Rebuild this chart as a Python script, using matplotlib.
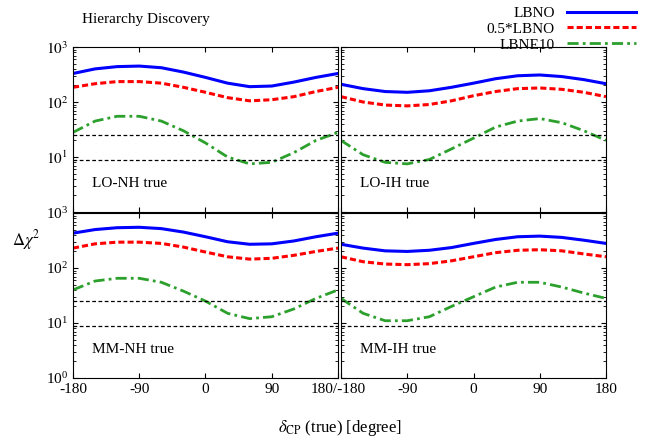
import matplotlib
matplotlib.use("Agg")
import matplotlib.pyplot as plt
import numpy as np

plt.rcParams["font.family"] = "Liberation Serif"
plt.rcParams["mathtext.fontset"] = "stix"

delta = [-180, -150, -120, -90, -60, -30, 0, 30, 60, 90, 120, 150, 180]
panels = ["LO-NH true", "LO-IH true", "MM-NH true", "MM-IH true"]

lbno = [
    [330, 400, 440, 450, 420, 350, 280, 220, 190, 195, 230, 280, 330],
    [210, 175, 155, 150, 160, 185, 220, 265, 300, 310, 290, 255, 215],
    [430, 500, 540, 550, 520, 450, 370, 300, 270, 275, 310, 370, 430],
    [270, 230, 205, 200, 210, 235, 280, 330, 370, 380, 360, 320, 280],
]
half_lbno = [
    [185, 215, 235, 235, 220, 185, 150, 120, 105, 110, 125, 155, 185],
    [125, 100, 88, 85, 90, 105, 130, 155, 175, 180, 170, 150, 125],
    [230, 275, 295, 295, 280, 240, 195, 160, 145, 150, 170, 200, 230],
    [160, 130, 118, 115, 120, 135, 160, 190, 210, 215, 205, 180, 160],
]
lbne10 = [
    [28, 45, 55, 55, 45, 30, 18, 10, 7.5, 8, 12, 20, 28],
    [20, 11, 8, 7.5, 9, 14, 22, 35, 45, 50, 42, 30, 20],
    [40, 58, 65, 65, 55, 38, 25, 15, 12, 13, 18, 28, 40],
    [28, 15, 11, 11, 13, 20, 30, 45, 55, 55, 45, 35, 28],
]
thresholds = [25, 9]

fig = plt.figure(figsize=(6.54, 4.36), dpi=100)
W, H = 654, 436
ph = 165
boxes = [(73, 47), (341, 47), (73, 213), (341, 213)]
axes = []
for i, (x0, y0) in enumerate(boxes):
    ax = fig.add_axes([x0 / W, 1 - (y0 + ph) / H, 265 / W, ph / H])
    axes.append(ax)
    l1, = ax.plot(delta, lbno[i], color="#0000ff", lw=2.2)
    l2, = ax.plot(delta, half_lbno[i], color="#ff0000", lw=2.2, ls=(0, (2, 1)))
    l3, = ax.plot(delta, lbne10[i], color="#2ca02c", lw=2.0, ls=(0, (4, 1.5, 1, 1.5)))
    for t in thresholds:
        ax.axhline(t, color="black", lw=0.9, ls=(0, (3, 2)))
    ax.set_yscale("log")
    ax.set_ylim(1, 1000)
    ax.set_xlim(-180, 180)
    ax.set_xticks([-180, -90, 0, 90, 180])
    ax.tick_params(direction="in", which="both", top=True, right=True, labelsize=11)
    ax.text(0.07, 0.15, panels[i], transform=ax.transAxes, fontsize=11)
    if i % 2 == 1:
        ax.set_yticklabels([])
    if i < 2:
        ax.set_xticklabels([])
        if i == 0:
            ax.set_yticks([10, 100, 1000])
            ax.set_yticklabels(["$10^1$", "$10^2$", "$10^3$"])
    if i == 2:
        ax.set_xticklabels(["-180", "-90", "0", "90", "180/-180"])
    if i == 3:
        ax.set_xticklabels(["", "-90", "0", "90", "180"])

fig.text(12 / W, 1 - 240 / H, r"$\Delta\chi^2$", fontsize=12, va="center")
fig.text(340 / W, 1 - 428 / H, r"$\delta_{\rm CP}$ (true) [degree]", fontsize=12,
         ha="center", va="center")
fig.text(82 / W, 1 - 20 / H, "Hierarchy Discovery", fontsize=11, va="center")
fig.legend([l1, l2, l3], ["LBNO", "0.5*LBNO", "LBNE10"], loc="upper right",
           bbox_to_anchor=(645 / W, 1 + 3 / H), frameon=False, fontsize=11,
           markerfirst=False, handlelength=4.5, labelspacing=0.15, borderpad=0.1)
fig.savefig("out.png", dpi=100)
